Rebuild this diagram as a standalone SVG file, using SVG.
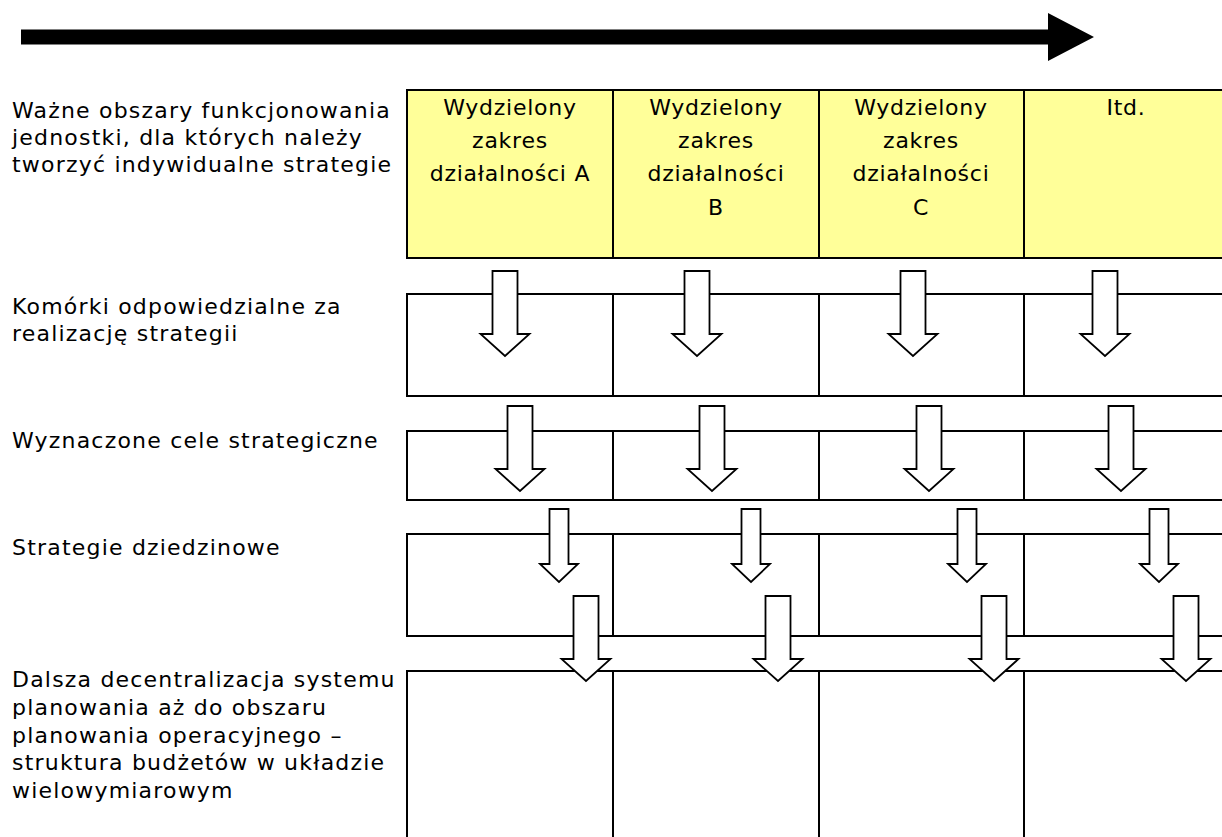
<svg xmlns="http://www.w3.org/2000/svg" width="1222" height="837" viewBox="0 0 1222 837">
  <style>
    .lbl { font-family: "DejaVu Sans", Verdana, sans-serif; font-size: 22px; letter-spacing: 1.2px; fill: #000; }
    .hdr { font-family: "DejaVu Sans", Verdana, sans-serif; font-size: 22px; letter-spacing: 0.75px; fill: #000; text-anchor: middle; }
    .cell { fill: #fff; stroke: #000; stroke-width: 2; }
    .cellY { fill: #ffff99; stroke: #000; stroke-width: 2; }
    .div { stroke: #000; stroke-width: 2; fill: none; }
    .blk { fill: #fff; stroke: #000; stroke-width: 1.8; stroke-linejoin: miter; }
  </style>
  <defs>
    <!-- wide block arrow, origin at top centre of the shaft -->
    <polygon id="arrW" class="blk" points="-12.5,0 12.5,0 12.5,63 24.5,63 0,85 -24.5,63 -12.5,63"/>
    <!-- narrower block arrow used between the third and fourth rows -->
    <polygon id="arrN" class="blk" points="-9.5,0 9.5,0 9.5,55 19,55 0,73 -19,55 -9.5,55"/>
  </defs>

  <!-- time / direction arrow across the top -->
  <g id="timeline">
    <polygon points="21,29.5 1048,29.5 1048,13 1094,37 1048,61 1048,44.5 21,44.5" fill="#000"/>
  </g>

  <!-- row labels on the left -->
  <g id="labels">
    <text class="lbl" x="12" y="118">Ważne obszary funkcjonowania</text>
    <text class="lbl" x="12" y="145">jednostki, dla których należy</text>
    <text class="lbl" x="12" y="172">tworzyć indywidualne strategie</text>
    <text class="lbl" x="12" y="314">Komórki odpowiedzialne za</text>
    <text class="lbl" x="12" y="341">realizację strategii</text>
    <text class="lbl" x="12" y="448">Wyznaczone cele strategiczne</text>
    <text class="lbl" x="12" y="555">Strategie dziedzinowe</text>
    <text class="lbl" x="12" y="687">Dalsza decentralizacja systemu</text>
    <text class="lbl" x="12" y="715">planowania aż do obszaru</text>
    <text class="lbl" x="12" y="743">planowania operacyjnego –</text>
    <text class="lbl" x="12" y="770">struktura budżetów w układzie</text>
    <text class="lbl" x="12" y="798">wielowymiarowym</text>
  </g>

  <!-- row 1: business areas -->
  <g id="row-areas">
    <rect class="cellY" x="407" y="90" width="830" height="168"/>
    <line class="div" x1="613" y1="90" x2="613" y2="258"/>
    <line class="div" x1="819" y1="90" x2="819" y2="258"/>
    <line class="div" x1="1024" y1="90" x2="1024" y2="258"/>
    <text class="hdr" x="510" y="115">Wydzielony</text>
    <text class="hdr" x="510" y="148">zakres</text>
    <text class="hdr" x="510" y="181">działalności A</text>
    <text class="hdr" x="716" y="115">Wydzielony</text>
    <text class="hdr" x="716" y="148">zakres</text>
    <text class="hdr" x="716" y="181">działalności</text>
    <text class="hdr" x="716" y="215">B</text>
    <text class="hdr" x="921" y="115">Wydzielony</text>
    <text class="hdr" x="921" y="148">zakres</text>
    <text class="hdr" x="921" y="181">działalności</text>
    <text class="hdr" x="921" y="215">C</text>
    <text class="hdr" x="1126" y="115">Itd.</text>
  </g>

  <!-- row 2: responsible units -->
  <g id="row-units">
    <rect class="cell" x="407" y="294" width="830" height="102"/>
    <line class="div" x1="613" y1="294" x2="613" y2="396"/>
    <line class="div" x1="819" y1="294" x2="819" y2="396"/>
    <line class="div" x1="1024" y1="294" x2="1024" y2="396"/>
  </g>

  <!-- row 3: strategic goals -->
  <g id="row-goals">
    <rect class="cell" x="407" y="431" width="830" height="69"/>
    <line class="div" x1="613" y1="431" x2="613" y2="500"/>
    <line class="div" x1="819" y1="431" x2="819" y2="500"/>
    <line class="div" x1="1024" y1="431" x2="1024" y2="500"/>
  </g>

  <!-- row 4: domain strategies -->
  <g id="row-domain">
    <rect class="cell" x="407" y="534" width="830" height="102"/>
    <line class="div" x1="613" y1="534" x2="613" y2="636"/>
    <line class="div" x1="819" y1="534" x2="819" y2="636"/>
    <line class="div" x1="1024" y1="534" x2="1024" y2="636"/>
  </g>

  <!-- row 5: operational budgets -->
  <g id="row-budgets">
    <rect class="cell" x="407" y="671" width="830" height="190"/>
    <line class="div" x1="613" y1="671" x2="613" y2="861"/>
    <line class="div" x1="819" y1="671" x2="819" y2="861"/>
    <line class="div" x1="1024" y1="671" x2="1024" y2="861"/>
  </g>

  <!-- downward block arrows between rows -->
  <g id="connectors">
    <use href="#arrW" x="505" y="271"/>
    <use href="#arrW" x="697" y="271"/>
    <use href="#arrW" x="913" y="271"/>
    <use href="#arrW" x="1105" y="271"/>

    <use href="#arrW" x="520" y="406"/>
    <use href="#arrW" x="712" y="406"/>
    <use href="#arrW" x="929" y="406"/>
    <use href="#arrW" x="1121" y="406"/>

    <use href="#arrN" x="559" y="509"/>
    <use href="#arrN" x="751" y="509"/>
    <use href="#arrN" x="967" y="509"/>
    <use href="#arrN" x="1159" y="509"/>

    <use href="#arrW" x="586" y="596"/>
    <use href="#arrW" x="778" y="596"/>
    <use href="#arrW" x="994" y="596"/>
    <use href="#arrW" x="1186" y="596"/>
  </g>
</svg>
